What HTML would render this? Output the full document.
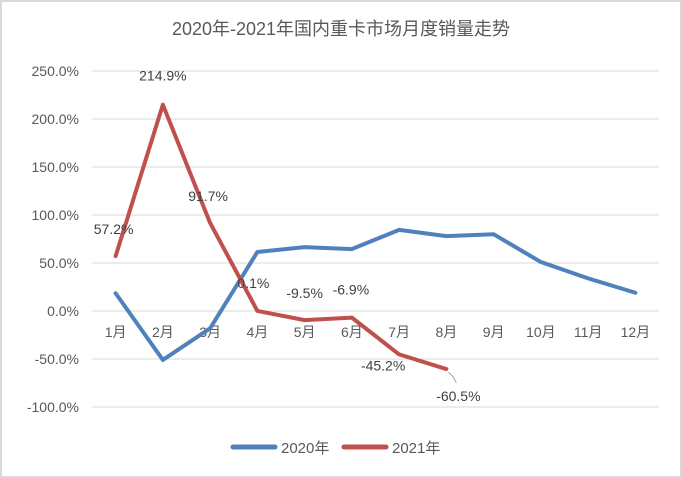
<!DOCTYPE html>
<html><head><meta charset="utf-8">
<style>
html,body{margin:0;padding:0;background:#fff;}
svg{display:block;font-family:"Liberation Sans","Noto Sans CJK SC",sans-serif;}
</style></head>
<body>
<svg id="chart" width="682" height="478" viewBox="0 0 682 478" xmlns="http://www.w3.org/2000/svg">
<rect x="1" y="1" width="680" height="476" fill="#fff" stroke="#d9d9d9" stroke-width="2"/>
<text x="341" y="35" text-anchor="middle" font-size="18" fill="#595959">2020年-2021年国内重卡市场月度销量走势</text>
<g id="grid"></g><g id="yticks"></g><g id="xticks"></g><g id="series"></g><g id="labels"></g>
<g>
<line x1="233" y1="447" x2="275" y2="447" stroke="#4f81bd" stroke-width="5" stroke-linecap="round"/>
<text x="281" y="453" font-size="15" fill="#595959">2020年</text>
<line x1="344" y1="447" x2="386" y2="447" stroke="#c0504d" stroke-width="5" stroke-linecap="round"/>
<text x="392" y="453" font-size="15" fill="#595959">2021年</text>
</g>
</svg>
<script>
const categories=["1月","2月","3月","4月","5月","6月","7月","8月","9月","10月","11月","12月"];
const series2020=[18.5,-51,-18,61.5,66.5,64.5,84.5,78,80,51,34,19];
const series2021=[57.2,214.9,91.7,0.1,-9.5,-6.9,-45.2,-60.5];
const labels2021=["57.2%","214.9%","91.7%","0.1%","-9.5%","-6.9%","-45.2%","-60.5%"];
const yTicks=[250,200,150,100,50,0,-50,-100];
const NS="http://www.w3.org/2000/svg";
const L=92,R=659,Y0=311,PX=0.96;
const y=v=>Y0-v*PX;
const x=i=>L+(R-L)/categories.length*(i+0.5);
function mk(tag,attrs,parent,txt){const e=document.createElementNS(NS,tag);for(const k in attrs)e.setAttribute(k,attrs[k]);if(txt!==undefined)e.textContent=txt;document.getElementById(parent).appendChild(e);return e;}
yTicks.forEach(t=>{
  const g=mk('line',{x1:L,x2:R,y1:y(t),y2:y(t),stroke:'#d9d9d9','stroke-width':1},'grid');
  
  
  const tx=mk('text',{x:79,y:y(t)+5,'text-anchor':'end','font-size':14,fill:'#595959'},'yticks',t.toFixed(1)+'%');
  
  
});
categories.forEach((c,i)=>{
  const tx=mk('text',{x:x(i),y:337,'text-anchor':'middle','font-size':14,fill:'#595959'},'xticks',c);
  
  
});
function line(data,color,name){
  const p=mk('polyline',{points:data.map((v,i)=>x(i)+','+y(v)).join(' '),fill:'none',stroke:color,'stroke-width':4,'stroke-linejoin':'round','stroke-linecap':'round'},'series');
  
  
}
line(series2020,'#4f81bd','line-2020');
line(series2021,'#c0504d','line-2021');
const off=[[-2,-27],[0,-29],[-2,-27],[-4,-28],[0,-27],[-1,-28],[-16,11],[12,27]];
series2021.forEach((v,i)=>{
  const t=mk('text',{x:x(i)+off[i][0],y:y(v)+off[i][1]+5,'text-anchor':'middle','font-size':14,fill:'#404040'},'labels',labels2021[i]);
  
  
});
const n=series2021.length-1;
const ld=mk('polyline',{points:(x(n)+2)+','+(y(series2021[n])+3)+' '+(x(n)+7)+','+(y(series2021[n])+8)+' '+(x(n)+10)+','+(y(series2021[n])+14),fill:'none',stroke:'#a6a6a6','stroke-width':1},'labels');


</script>
</body></html>
